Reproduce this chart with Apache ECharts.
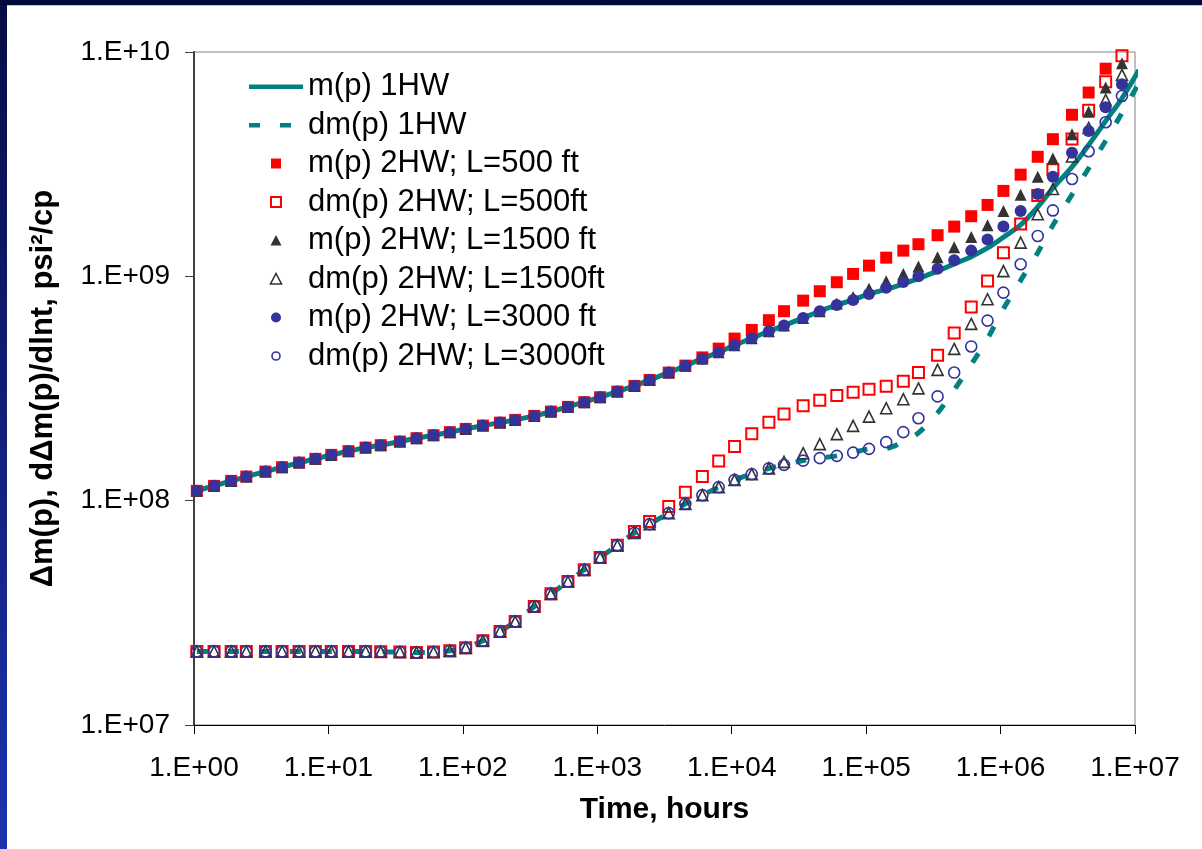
<!DOCTYPE html>
<html>
<head>
<meta charset="utf-8">
<script src="https://cdn.jsdelivr.net/npm/echarts@6/dist/echarts.min.js"></script>
<style>
html,body{margin:0;padding:0;background:#fff;}
#chart{width:1202px;height:849px;}
</style>
</head>
<body>
<div id="chart"></div>
<script>
// ---- data (time in hours, values in psi^2/cp) ----
const TIME = [1.05,1.41,1.89,2.45,3.4,4.52,6.05,8.0,
  10.5,14.1,18.9,24.5,34,45.2,60.5,80,
  105,141,189,245,340,452,605,800,
  1050,1410,1890,2450,3400,4520,6050,8000,
  10500,14100,18900,24500,34000,45200,60500,80000,
  105000,141000,189000,245000,340000,452000,605000,800000,
  1050000,1410000,1890000,2450000,3400000,4520000,6050000,8000000];
const LINE_T_START = 0.95;
const LINE_T_END = 1.07e7;

const M_1HW = [1.083e8,
  1.106e8,1.164e8,1.225e8,1.281e8,1.348e8,1.410e8,1.478e8,1.536e8,
  1.600e8,1.662e8,1.724e8,1.767e8,1.834e8,1.899e8,1.958e8,2.020e8,
  2.089e8,2.161e8,2.228e8,2.291e8,2.387e8,2.495e8,2.618e8,2.748e8,
  2.892e8,3.064e8,3.248e8,3.453e8,3.724e8,3.999e8,4.297e8,4.589e8,
  4.932e8,5.299e8,5.692e8,6.030e8,6.525e8,6.990e8,7.455e8,7.848e8,
  8.349e8,8.741e8,9.250e8,9.786e8,1.055e9,1.136e9,1.224e9,1.338e9,
  1.494e9,1.695e9,2.039e9,2.470e9,3.076e9,3.851e9,4.926e9,6.220e9,
  8.314e9];
const DM_1HW = [
  2.126e7,2.126e7,2.126e7,2.126e7,2.126e7,2.126e7,2.126e7,2.126e7,
  2.126e7,2.126e7,2.126e7,2.120e7,2.114e7,2.105e7,2.114e7,2.141e7,
  2.208e7,2.373e7,2.611e7,2.892e7,3.375e7,3.843e7,4.361e7,4.915e7,
  5.578e7,6.322e7,7.187e7,7.859e7,8.798e7,9.676e7,1.058e8,1.149e8,
  1.238e8,1.313e8,1.393e8,1.444e8,1.509e8,1.547e8,1.584e8,1.638e8,
  1.701e8,1.710e8,1.828e8,2.005e8,2.462e8,3.118e8,4.046e8,5.278e8,
  7.155e8,9.588e8,1.275e9,1.689e9,2.315e9,3.029e9,4.020e9,5.349e9,
  7.276e9];

const M_500 = [
  1.106e8,1.164e8,1.225e8,1.281e8,1.348e8,1.410e8,1.478e8,1.536e8,
  1.600e8,1.662e8,1.724e8,1.767e8,1.834e8,1.899e8,1.958e8,2.020e8,
  2.089e8,2.161e8,2.228e8,2.291e8,2.387e8,2.495e8,2.618e8,2.748e8,
  2.892e8,3.064e8,3.248e8,3.453e8,3.724e8,3.999e8,4.351e8,4.761e8,
  5.278e8,5.768e8,6.374e8,6.990e8,7.792e8,8.582e8,9.412e8,1.025e9,
  1.116e9,1.211e9,1.302e9,1.390e9,1.525e9,1.666e9,1.853e9,2.081e9,
  2.403e9,2.840e9,3.412e9,4.087e9,5.251e9,6.597e9,8.426e9,null];
const DM_500 = [
  2.126e7,2.126e7,2.126e7,2.126e7,2.126e7,2.126e7,2.126e7,2.126e7,
  2.126e7,2.126e7,2.126e7,2.120e7,2.114e7,2.105e7,2.114e7,2.141e7,
  2.208e7,2.373e7,2.611e7,2.892e7,3.375e7,3.843e7,4.361e7,4.915e7,
  5.578e7,6.322e7,7.284e7,8.071e7,9.412e7,1.091e8,1.281e8,1.504e8,
  1.742e8,1.985e8,2.238e8,2.437e8,2.646e8,2.805e8,2.941e8,3.045e8,
  3.140e8,3.237e8,3.408e8,3.724e8,4.450e8,5.596e8,7.304e8,9.539e8,
  1.275e9,1.712e9,2.294e9,2.985e9,4.095e9,5.498e9,7.373e9,9.627e9];
const M_1500 = [
  1.106e8,1.164e8,1.225e8,1.281e8,1.348e8,1.410e8,1.478e8,1.536e8,
  1.600e8,1.662e8,1.724e8,1.767e8,1.834e8,1.899e8,1.958e8,2.020e8,
  2.089e8,2.161e8,2.228e8,2.291e8,2.387e8,2.495e8,2.618e8,2.748e8,
  2.892e8,3.064e8,3.248e8,3.453e8,3.724e8,3.999e8,4.297e8,4.589e8,
  4.932e8,5.299e8,5.692e8,6.030e8,6.525e8,6.990e8,7.571e8,8.093e8,
  8.814e8,9.510e8,1.025e9,1.105e9,1.217e9,1.348e9,1.498e9,1.689e9,
  1.953e9,2.313e9,2.782e9,3.353e9,4.297e9,5.420e9,6.947e9,8.904e9];
const DM_1500 = [
  2.126e7,2.126e7,2.126e7,2.126e7,2.126e7,2.126e7,2.126e7,2.126e7,
  2.126e7,2.126e7,2.126e7,2.120e7,2.114e7,2.105e7,2.114e7,2.141e7,
  2.208e7,2.373e7,2.611e7,2.892e7,3.375e7,3.843e7,4.361e7,4.915e7,
  5.578e7,6.322e7,7.187e7,7.859e7,8.798e7,9.676e7,1.058e8,1.149e8,
  1.238e8,1.313e8,1.393e8,1.489e8,1.628e8,1.786e8,1.979e8,2.154e8,
  2.370e8,2.584e8,2.834e8,3.165e8,3.828e8,4.747e8,6.136e8,7.904e8,
  1.055e9,1.413e9,1.891e9,2.452e9,3.422e9,4.585e9,6.111e9,7.899e9];
const M_3000 = [
  1.106e8,1.164e8,1.225e8,1.281e8,1.348e8,1.410e8,1.478e8,1.536e8,
  1.600e8,1.662e8,1.724e8,1.767e8,1.834e8,1.899e8,1.958e8,2.020e8,
  2.089e8,2.161e8,2.228e8,2.291e8,2.387e8,2.495e8,2.618e8,2.748e8,
  2.892e8,3.064e8,3.248e8,3.453e8,3.724e8,3.999e8,4.297e8,4.589e8,
  4.932e8,5.299e8,5.692e8,6.030e8,6.525e8,6.990e8,7.455e8,7.848e8,
  8.349e8,8.904e8,9.441e8,1.001e9,1.082e9,1.180e9,1.302e9,1.460e9,
  1.666e9,1.956e9,2.329e9,2.782e9,3.555e9,4.446e9,5.675e9,7.179e9];
const DM_3000 = [
  2.126e7,2.126e7,2.126e7,2.126e7,2.126e7,2.126e7,2.126e7,2.126e7,
  2.126e7,2.126e7,2.126e7,2.120e7,2.114e7,2.105e7,2.114e7,2.141e7,
  2.208e7,2.373e7,2.611e7,2.892e7,3.375e7,3.843e7,4.361e7,4.915e7,
  5.578e7,6.322e7,7.187e7,7.859e7,8.798e7,9.676e7,1.058e8,1.149e8,
  1.238e8,1.313e8,1.393e8,1.444e8,1.509e8,1.547e8,1.584e8,1.638e8,
  1.701e8,1.823e8,2.020e8,2.331e8,2.916e8,3.724e8,4.870e8,6.347e8,
  8.461e8,1.132e9,1.514e9,1.967e9,2.716e9,3.610e9,4.862e9,6.367e9];

const NAMES = ['m(p) 1HW','dm(p) 1HW','m(p) 2HW; L=500 ft','dm(p) 2HW; L=500ft',
  'm(p) 2HW; L=1500 ft','dm(p) 2HW; L=1500ft','m(p) 2HW; L=3000 ft','dm(p) 2HW; L=3000ft'];
const X_TITLE = 'Time, hours';
const Y_TITLE = 'Δm(p), dΔm(p)/dlnt, psi²/cp';

// ---- build ----
function pairs(t, v){ const out=[]; for(let i=0;i<t.length;i++){ if(v[i]!=null) out.push([t[i],v[i]]);} return out; }
const lineTimeM = [LINE_T_START].concat(TIME, [LINE_T_END]);
const lineTimeDm = TIME.concat([LINE_T_END]);
function expLabel(v){ const e=Math.round(Math.log10(v)); return '1.E+'+(e<10?'0'+e:String(e)); }

const FONT = 'Liberation Sans, Arial, sans-serif';
const TEAL = '#008080', RED = '#ff0000', DARK = '#333333', NAVY = '#333399';
const CLEAR = 'rgba(255,255,255,0)';

// legend icons: box 54 x 12 kept by invisible move-to points
const BOX = 'M0,0 M54,12 ';
const ICON_LINE = 'path://' + BOX + 'M0,4 L54,4 L54,8.5 L0,8.5 Z';
const ICON_DASH = 'path://' + BOX + 'M0,4 L11,4 L11,8.5 L0,8.5 Z M31,4 L42,4 L42,8.5 L31,8.5 Z';
const ICON_SQ = 'path://' + BOX + 'M22,1 L32,1 L32,11 L22,11 Z';
const ICON_TRI = 'path://' + BOX + 'M27,0.5 L32.5,11 L21.5,11 Z';
const ICON_CIR = 'path://' + BOX + 'M22,6 A5,5 0 1 1 32,6 A5,5 0 1 1 22,6 Z';
const ICON_CIR_S = 'path://' + BOX + 'M23,6 A4,4 0 1 1 31,6 A4,4 0 1 1 23,6 Z';

const chart = echarts.init(document.getElementById('chart'), null, {renderer:'canvas'});
chart.setOption({
  animation:false,
  backgroundColor:'#ffffff',
  textStyle:{fontFamily:FONT},
  graphic:[
    {type:'rect', z:100, shape:{x:0,y:0,width:7,height:849},
     style:{fill:new echarts.graphic.LinearGradient(0,0,0,1,[{offset:0,color:'#070b45'},{offset:1,color:'#1b33ae'}])}},
    {type:'rect', z:100, shape:{x:0,y:0,width:1202,height:5}, style:{fill:'#000a3a'}},
    {type:'line', z:100, shape:{x1:7,y1:5.5,x2:1202,y2:5.5}, style:{stroke:'#c8c8c8',lineWidth:1}}
  ],
  grid:{left:194, top:52, right:67, bottom:124, show:true, borderColor:'#808080', borderWidth:1, backgroundColor:'transparent'},
  legend:{
    orient:'vertical', left:243, top:66, itemWidth:54, itemHeight:12, itemGap:7.5,
    selectedMode:false,
    data:[
      {name:NAMES[0], icon:ICON_LINE, itemStyle:{color:TEAL, borderWidth:0}},
      {name:NAMES[1], icon:ICON_DASH, itemStyle:{color:TEAL, borderWidth:0}},
      {name:NAMES[2], icon:ICON_SQ, itemStyle:{color:RED, borderWidth:0}},
      {name:NAMES[3], icon:ICON_SQ, itemStyle:{color:CLEAR, borderColor:RED, borderWidth:2}},
      {name:NAMES[4], icon:ICON_TRI, itemStyle:{color:DARK, borderWidth:0}},
      {name:NAMES[5], icon:ICON_TRI, itemStyle:{color:CLEAR, borderColor:DARK, borderWidth:1.6}},
      {name:NAMES[6], icon:ICON_CIR, itemStyle:{color:NAVY, borderWidth:0}},
      {name:NAMES[7], icon:ICON_CIR_S, itemStyle:{color:CLEAR, borderColor:NAVY, borderWidth:1.6}}
    ],
    textStyle:{fontSize:31, lineHeight:30, color:'#000', fontFamily:FONT}
  },
  xAxis:{
    type:'log', logBase:10, min:1, max:1e7,
    name:X_TITLE, nameLocation:'middle', nameGap:70,
    nameTextStyle:{fontSize:30, fontWeight:'bold', color:'#000', fontFamily:FONT},
    axisLine:{show:true, lineStyle:{color:'#000', width:1}},
    axisTick:{show:true, length:9, lineStyle:{color:'#000', width:1}},
    minorTick:{show:false}, splitLine:{show:false},
    axisLabel:{formatter:expLabel, fontSize:28, color:'#000', margin:29, fontFamily:FONT, showMinLabel:true, showMaxLabel:true}
  },
  yAxis:{
    type:'log', logBase:10, min:1e7, max:1e10,
    name:Y_TITLE, nameLocation:'middle', nameGap:135, nameRotate:90,
    nameTextStyle:{fontSize:31, fontWeight:'bold', color:'#000', fontFamily:FONT},
    axisLine:{show:true, lineStyle:{color:'#404040', width:2}},
    axisTick:{show:true, length:9, lineStyle:{color:'#404040', width:1}},
    minorTick:{show:false}, splitLine:{show:false},
    axisLabel:{formatter:expLabel, fontSize:28, color:'#000', margin:24, fontFamily:FONT}
  },
  series:[
    {name:NAMES[0], type:'line', data:pairs(lineTimeM, M_1HW), symbol:'none', showSymbol:false, smooth:0.3, clip:false,
     lineStyle:{color:TEAL, width:5}, itemStyle:{color:TEAL}, z:2},
    {name:NAMES[1], type:'line', data:pairs(lineTimeDm, DM_1HW), symbol:'none', showSymbol:false, smooth:0.3, clip:false,
     lineStyle:{color:TEAL, width:5, type:[11,20], cap:'butt'}, itemStyle:{color:TEAL}, z:2},
    {name:NAMES[2], type:'scatter', data:pairs(TIME, M_500), symbol:'rect', symbolSize:12,
     itemStyle:{color:RED, opacity:1}, z:3},
    {name:NAMES[3], type:'scatter', data:pairs(TIME, DM_500), symbol:'rect', symbolSize:11,
     itemStyle:{color:CLEAR, borderColor:RED, borderWidth:2, opacity:1}, z:3},
    {name:NAMES[4], type:'scatter', data:pairs(TIME, M_1500), symbol:'triangle', symbolSize:12,
     itemStyle:{color:DARK, opacity:1}, z:3},
    {name:NAMES[5], type:'scatter', data:pairs(TIME, DM_1500), symbol:'triangle', symbolSize:11,
     itemStyle:{color:CLEAR, borderColor:DARK, borderWidth:1.6, opacity:1}, z:3},
    {name:NAMES[6], type:'scatter', data:pairs(TIME, M_3000), symbol:'circle', symbolSize:12,
     itemStyle:{color:NAVY, opacity:1}, z:3},
    {name:NAMES[7], type:'scatter', data:pairs(TIME, DM_3000), symbol:'circle', symbolSize:11,
     itemStyle:{color:CLEAR, borderColor:NAVY, borderWidth:1.6, opacity:1}, z:3}
  ]
});
</script>
</body>
</html>
